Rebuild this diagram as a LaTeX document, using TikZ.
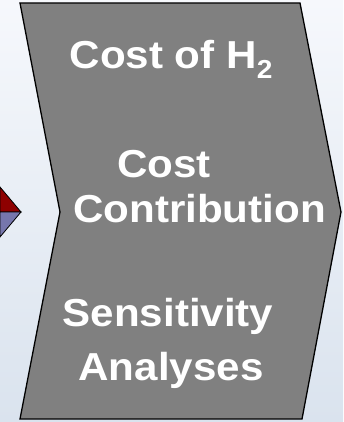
\documentclass[tikz,border=0pt]{standalone}
\usepackage{fontspec}
\newfontfamily\chevfont{Liberation Sans}[FakeStretch=1.08]
\usetikzlibrary{calc}
\definecolor{bgtop}{HTML}{F6F8FC}
\definecolor{bgbot}{HTML}{DAE3EE}
\definecolor{arrowred}{HTML}{8E0000}
\definecolor{arrowblue}{HTML}{7676AC}
\definecolor{boxgray}{HTML}{808080}
\begin{document}
\begin{tikzpicture}[x=1pt,y=-1pt,
	lbl/.style={text=white,inner sep=0pt,font=\chevfont\bfseries\fontsize{39}{46}\selectfont}]
\shade[top color=bgtop,bottom color=bgbot] (0,0) rectangle (343,422);
\useasboundingbox (0,0) rectangle (343,422);
% arrow coming in from the left
\coordinate (tip) at (21,212);
\draw[fill=arrowred,line width=0.8pt] (0,187) -- (tip) -- (0,212) -- cycle;
\draw[fill=arrowblue,line width=0.8pt] (0,212) -- (tip) -- (0,237) -- cycle;
% chevron
\draw[fill=boxgray,line width=1.3pt,line join=miter] (20,3) -- (300,3) -- (341,212)
	-- (302,419) -- (20,419) -- (60,212) -- cycle;
\node[lbl,anchor=base] (costh) at (171,69) {Cost of H\raisebox{-10pt}{\fontsize{26}{26}\selectfont 2}};
\node[lbl,anchor=base west] (cost) at (117,177) {Cost};
\node[lbl,anchor=base west] (contrib) at (73,222) {Contribution};
\node[lbl,anchor=base] (sens) at (168,326) {Sensitivity};
\node[lbl,anchor=base] (anal) at (171,380) {Analyses};
\end{tikzpicture}
\end{document}
